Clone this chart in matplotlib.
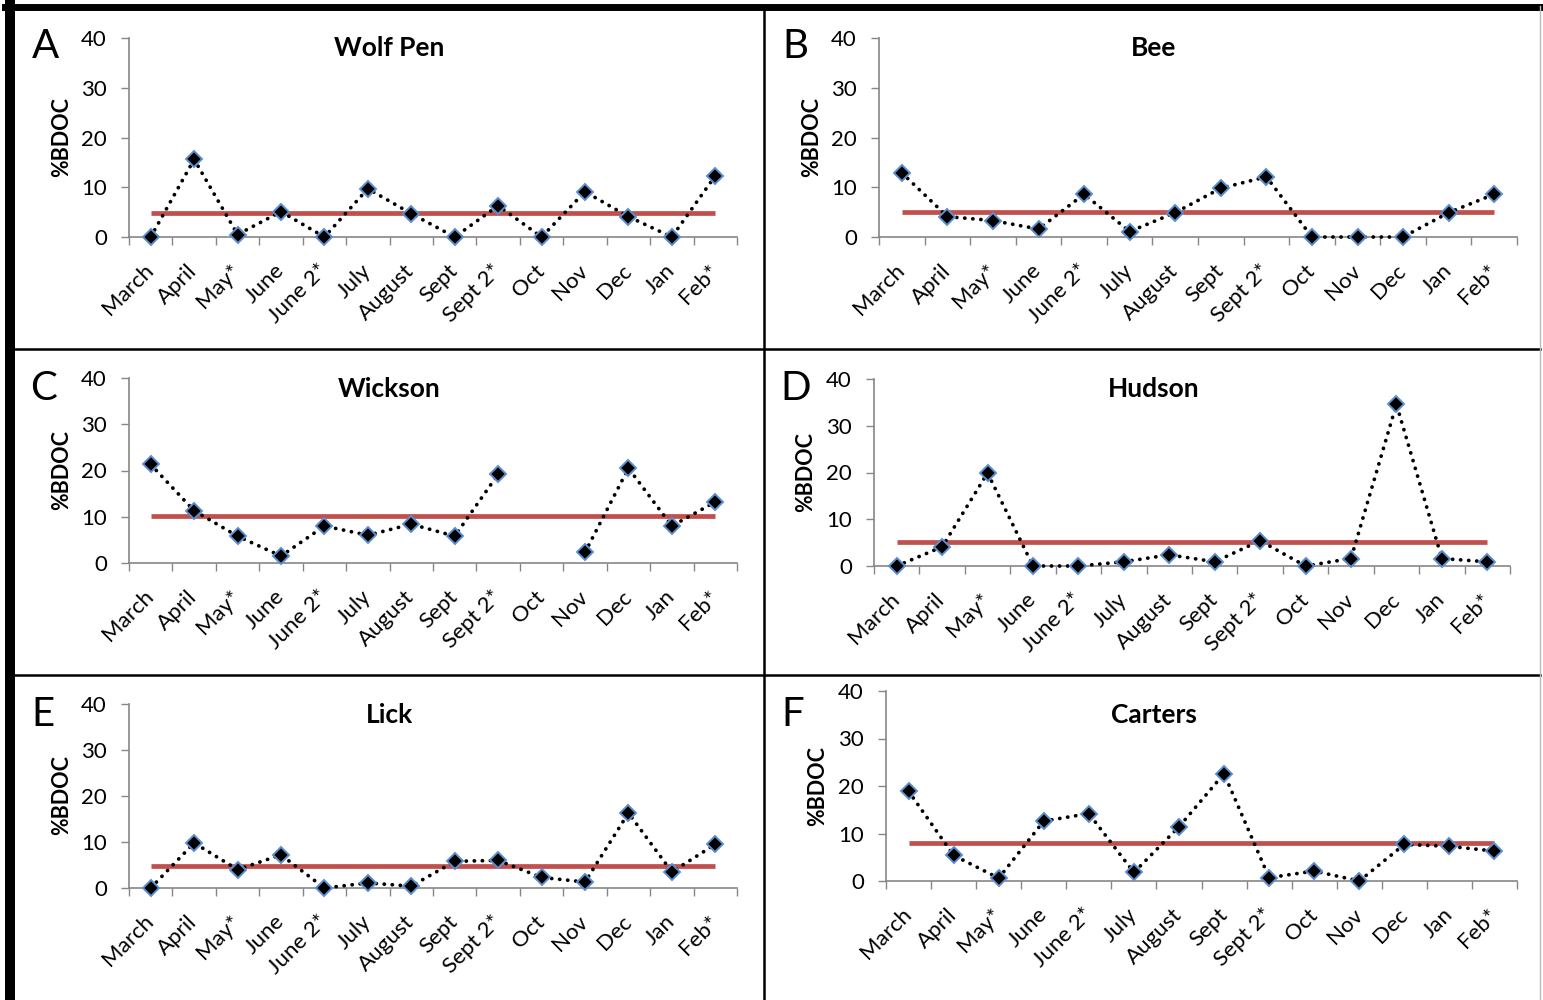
import numpy as np
import matplotlib
matplotlib.use("Agg")
from matplotlib import pyplot as plt
from matplotlib.lines import Line2D

# Data (%BDOC per sampling date)
months = ["March", "April", "May*", "June", "June 2*", "July", "August",
          "Sept", "Sept 2*", "Oct", "Nov", "Dec", "Jan", "Feb*"]

wolf_pen = [0, 15.6, 0.5, 5.1, 0, 9.7, 4.7, 0, 6.3, 0, 9.1, 4.1, 0, 12.3]
bee = [12.9, 4.1, 3.3, 1.6, 8.6, 1.1, 4.9, 9.8, 12.1, 0, 0, 0, 4.9, 8.6]
wickson = [21.3, 11.3, 5.8, 1.5, 8.0, 6.0, 8.4, 5.8, 19.2, np.nan, 2.3, 20.5, 8.0, 13.2]
hudson = [0, 4.1, 19.9, 0, 0, 0.9, 2.4, 0.9, 5.4, 0, 1.6, 34.6, 1.6, 0.9]
lick = [0, 9.8, 4.0, 7.2, 0, 1.1, 0.4, 5.8, 6.0, 2.3, 1.3, 16.3, 3.5, 9.5]
carters = [18.9, 5.4, 0.6, 12.6, 14.2, 1.8, 11.4, 22.6, 0.7, 2.1, 0, 7.7, 7.3, 6.3]

# Mean %BDOC for each stream (red line)
means = [4.8, 5.1, 10.1, 5.2, 4.8, 8.0]

titles = ["Wolf Pen", "Bee", "Wickson", "Hudson", "Lick", "Carters"]
letters = ["A", "B", "C", "D", "E", "F"]
series = [wolf_pen, bee, wickson, hudson, lick, carters]

# Layout in pixels: axes x0, x1, y(40), y(0); title / letter / ylabel centres
W, H = 1543, 1000
axes_px = [(129, 737, 38, 237), (879, 1517, 38, 237),
           (129, 737, 378, 563), (874, 1510, 379, 566),
           (129, 737, 704, 888), (886, 1517, 691, 881)]
title_px = [(389, 48), (1154, 48), (389, 389), (1154, 389), (389, 715), (1154, 715)]
letter_px = [(45, 47), (795, 47), (44, 389), (796, 389), (43, 715), (793, 715)]
ylab_px = [(62, 137), (812, 137), (62, 470), (806, 472), (62, 795), (818, 786)]

plt.rcParams['font.family'] = ['Lato', 'DejaVu Sans']

fig = plt.figure(figsize=(W / 100, H / 100), dpi=100)
fig.patch.set_facecolor("white")

grey = "#868686"
x = np.arange(len(months))

for i in range(6):
    x0, x1, ytop, ybot = axes_px[i]
    ax = fig.add_axes([x0 / W, 1 - ybot / H, (x1 - x0) / W, (ybot - ytop) / H])

    # mean line first, then the data on top
    ax.plot(x, [means[i]] * len(x), color="#C0504D", lw=3.4, solid_capstyle="butt", zorder=2)
    ax.plot(x, series[i], color="black", lw=2.7, linestyle=(0, (0.05, 2.1)),
            dash_capstyle="round", zorder=3, clip_on=False)
    ax.plot(x, series[i], linestyle="none", marker="D", markersize=8.5,
            markerfacecolor="black", markeredgecolor="#5B8FCF", markeredgewidth=1.4,
            zorder=4, clip_on=False)

    ax.set_xlim(-0.5, len(months) - 0.5)
    ax.set_ylim(0, 40)
    ax.set_yticks([0, 10, 20, 30, 40])
    ax.set_xticks(np.arange(len(months) + 1) - 0.5)
    ax.set_xticklabels([])
    ax.set_xticks(x, minor=True)
    ax.set_xticklabels(months, minor=True, rotation=45, ha="right", va="center",
                       rotation_mode="anchor", fontsize=16)
    ax.tick_params(axis="x", which="minor", length=0, pad=22)
    ax.tick_params(axis="x", which="major", length=6, width=1, color=grey, direction="out")
    ax.tick_params(axis="y", length=6, width=1, color=grey, direction="out", pad=10,
                   labelsize=16)
    for s in ["top", "right"]:
        ax.spines[s].set_visible(False)
    for s in ["left", "bottom"]:
        ax.spines[s].set_color(grey)
        ax.spines[s].set_linewidth(1.2)
    ax.patch.set_alpha(0)

    tx, ty = title_px[i]
    fig.text(tx / W, 1 - ty / H, titles[i], ha="center", va="center",
             fontsize=19, fontweight="bold")
    lx, ly = letter_px[i]
    fig.text(lx / W, 1 - ly / H, letters[i], ha="center", va="center", fontsize=29)
    yx, yy = ylab_px[i]
    fig.text(yx / W, 1 - yy / H, "%BDOC", ha="center", va="center", rotation=90,
             fontsize=15.5, fontweight="bold")

# Panel borders
def hline(y, xa, xb, lw, color="black"):
    fig.add_artist(Line2D([xa / W, xb / W], [1 - y / H, 1 - y / H], lw=lw, color=color))

def vline(xp, ya, yb, lw, color="black"):
    fig.add_artist(Line2D([xp / W, xp / W], [1 - ya / H, 1 - yb / H], lw=lw, color=color))

hline(6.5, 5, W, 5.0)
vline(10, 0, H, 7.2)
vline(764, 6, H, 1.8)
hline(349.5, 10, 1540, 1.8)
hline(674.5, 10, 1540, 1.8)
vline(1540, 6, H, 1.0, "#bbbbbb")

plt.savefig("out.png", dpi=100)
